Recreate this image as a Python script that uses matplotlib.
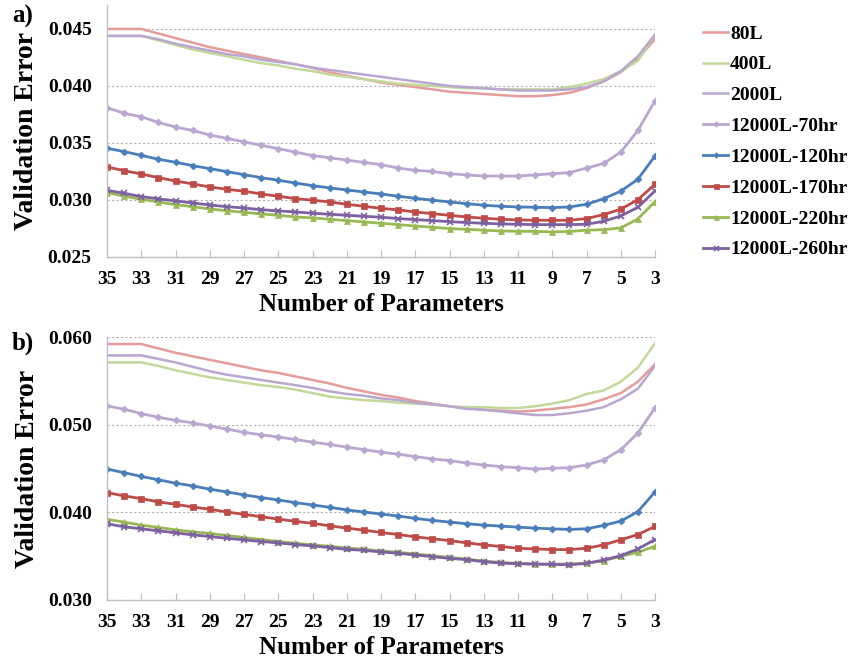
import numpy as np
import matplotlib
matplotlib.use("Agg")
import matplotlib.pyplot as plt

# number of parameters, from 35 down to 3
n_params = list(range(35, 2, -1))

series_names = ["80L", "400L", "2000L", "12000L-70hr", "12000L-120hr",
                "12000L-170hr", "12000L-220hr", "12000L-260hr"]

# panel a) validation error
a_80L = [0.0450, 0.0450, 0.0450, 0.0446, 0.0442, 0.0438, 0.0434, 0.0431, 0.0428, 0.0425,
         0.0422, 0.0419, 0.0416, 0.0412, 0.0409, 0.0406, 0.0403, 0.0401, 0.0399, 0.0397,
         0.0395, 0.0394, 0.0393, 0.0392, 0.0391, 0.0391, 0.0392, 0.0394, 0.0398, 0.0404,
         0.0412, 0.0424, 0.0441]
a_400L = [0.04439, 0.04439, 0.04439, 0.0440, 0.0436, 0.0432, 0.0429, 0.0426, 0.0423, 0.0420,
          0.0418, 0.0415, 0.0413, 0.0410, 0.0408, 0.0406, 0.0404, 0.0402, 0.0401, 0.0400,
          0.0399, 0.0398, 0.0398, 0.0397, 0.0397, 0.0397, 0.0397, 0.0399, 0.0402, 0.0406,
          0.0413, 0.0422, 0.0445]
a_2000L = [0.04439, 0.04439, 0.04439, 0.0441, 0.0437, 0.0434, 0.0431, 0.0428, 0.0426, 0.0423,
           0.0421, 0.0419, 0.0416, 0.0414, 0.0412, 0.0410, 0.0408, 0.0406, 0.0404, 0.0402,
           0.0400, 0.0399, 0.0398, 0.0397, 0.0396, 0.0396, 0.0396, 0.0397, 0.0399, 0.0404,
           0.0413, 0.0426, 0.0445]
a_70hr = [0.0381, 0.0376, 0.0373, 0.0368, 0.0364, 0.0361, 0.0357, 0.0354, 0.0351, 0.0348,
          0.0345, 0.0342, 0.0339, 0.0337, 0.0335, 0.0333, 0.0331, 0.0328, 0.0326, 0.0325,
          0.0323, 0.0322, 0.0321, 0.0321, 0.0321, 0.0322, 0.0323, 0.0324, 0.0328, 0.0332,
          0.0342, 0.0361, 0.0387]
a_120hr = [0.03454, 0.03424, 0.03392, 0.03357, 0.03331, 0.03301, 0.03275, 0.03249, 0.03222, 0.03196,
           0.03173, 0.03149, 0.03126, 0.03106, 0.03088, 0.03070, 0.03053, 0.03033, 0.03015, 0.02998,
           0.02983, 0.02968, 0.02954, 0.02945, 0.02939, 0.02936, 0.02933, 0.02939, 0.02962, 0.03011,
           0.03077, 0.03182, 0.03386]
a_170hr = [0.03290, 0.03257, 0.03228, 0.03196, 0.03167, 0.03141, 0.03114, 0.03094, 0.03077, 0.03053,
           0.03033, 0.03012, 0.02998, 0.02983, 0.02962, 0.02945, 0.02927, 0.02913, 0.02895, 0.02880,
           0.02866, 0.02851, 0.02840, 0.02831, 0.02825, 0.02822, 0.02822, 0.02822, 0.02837, 0.02872,
           0.02919, 0.03003, 0.03138]
a_220hr = [0.03064, 0.03035, 0.03006, 0.02983, 0.02959, 0.02941, 0.02921, 0.02906, 0.02892, 0.02878,
           0.02866, 0.02851, 0.02843, 0.02831, 0.02819, 0.02808, 0.02796, 0.02784, 0.02772, 0.02761,
           0.02749, 0.02743, 0.02735, 0.02728, 0.02726, 0.02724, 0.02720, 0.02724, 0.02735, 0.02740,
           0.02755, 0.02834, 0.02986]
a_260hr = [0.03085, 0.03059, 0.03030, 0.03010, 0.02992, 0.02974, 0.02956, 0.02941, 0.02930, 0.02915,
           0.02904, 0.02895, 0.02884, 0.02875, 0.02866, 0.02857, 0.02849, 0.02837, 0.02828, 0.02819,
           0.02810, 0.02802, 0.02796, 0.02790, 0.02787, 0.02784, 0.02784, 0.02784, 0.02787, 0.02813,
           0.02860, 0.02936, 0.03080]

# panel b) validation error
b_80L = [0.0592, 0.0592, 0.0592, 0.0587, 0.0582, 0.0578, 0.0574, 0.0570, 0.0566, 0.0562,
         0.0559, 0.0555, 0.0551, 0.0547, 0.0542, 0.0538, 0.0534, 0.0531, 0.0527, 0.0524,
         0.0521, 0.0519, 0.0517, 0.0516, 0.0515, 0.0516, 0.0518, 0.0520, 0.0523, 0.0529,
         0.0536, 0.0549, 0.0569]
b_400L = [0.0571, 0.0571, 0.0571, 0.0567, 0.0562, 0.0558, 0.0554, 0.0551, 0.0548, 0.0545,
          0.0543, 0.0540, 0.0536, 0.0532, 0.0530, 0.0528, 0.0527, 0.0525, 0.0524, 0.0523,
          0.0521, 0.0520, 0.0520, 0.0519, 0.0519, 0.0521, 0.0524, 0.0528, 0.0535, 0.0539,
          0.0549, 0.0565, 0.0593]
b_2000L = [0.0579, 0.0579, 0.0579, 0.0575, 0.0571, 0.0566, 0.0561, 0.0557, 0.0554, 0.0551,
           0.0548, 0.0545, 0.0542, 0.0538, 0.0535, 0.0533, 0.0530, 0.0528, 0.0525, 0.0523,
           0.0521, 0.0518, 0.0517, 0.0515, 0.0513, 0.0511, 0.0511, 0.0513, 0.0516, 0.0520,
           0.0529, 0.0541, 0.0567]
b_70hr = [0.05215, 0.05176, 0.05126, 0.05084, 0.05050, 0.05020, 0.04985, 0.04950, 0.04912, 0.04885,
          0.04859, 0.04831, 0.04801, 0.04774, 0.04744, 0.04716, 0.04686, 0.04663, 0.04636, 0.04610,
          0.04590, 0.04563, 0.04540, 0.04521, 0.04509, 0.04494, 0.04502, 0.04509, 0.04540, 0.04598,
          0.04713, 0.04905, 0.05192]
b_120hr = [0.04494, 0.04452, 0.04410, 0.04371, 0.04333, 0.04302, 0.04264, 0.04233, 0.04199, 0.04169,
           0.04141, 0.04111, 0.04084, 0.04058, 0.04027, 0.04004, 0.03981, 0.03958, 0.03931, 0.03908,
           0.03889, 0.03870, 0.03854, 0.03843, 0.03831, 0.03820, 0.03812, 0.03805, 0.03812, 0.03851,
           0.03900, 0.04008, 0.04233]
b_170hr = [0.04226, 0.04187, 0.04157, 0.04119, 0.04092, 0.04061, 0.04035, 0.04004, 0.03977, 0.03950,
           0.03923, 0.03897, 0.03874, 0.03847, 0.03820, 0.03797, 0.03770, 0.03747, 0.03721, 0.03698,
           0.03678, 0.03652, 0.03629, 0.03610, 0.03590, 0.03583, 0.03575, 0.03575, 0.03590, 0.03629,
           0.03686, 0.03747, 0.03839]
b_220hr = [0.03920, 0.03889, 0.03854, 0.03828, 0.03800, 0.03778, 0.03759, 0.03736, 0.03713, 0.03690,
           0.03667, 0.03647, 0.03629, 0.03613, 0.03594, 0.03578, 0.03560, 0.03544, 0.03525, 0.03506,
           0.03486, 0.03467, 0.03444, 0.03429, 0.03417, 0.03410, 0.03410, 0.03410, 0.03421, 0.03448,
           0.03498, 0.03544, 0.03613]
b_260hr = [0.03870, 0.03835, 0.03812, 0.03789, 0.03766, 0.03743, 0.03724, 0.03704, 0.03686, 0.03667,
           0.03652, 0.03632, 0.03617, 0.03598, 0.03578, 0.03567, 0.03548, 0.03533, 0.03514, 0.03494,
           0.03475, 0.03460, 0.03437, 0.03421, 0.03414, 0.03410, 0.03406, 0.03402, 0.03417, 0.03456,
           0.03506, 0.03582, 0.03690]

panel_a = [a_80L, a_400L, a_2000L, a_70hr, a_120hr, a_170hr, a_220hr, a_260hr]
panel_b = [b_80L, b_400L, b_2000L, b_70hr, b_120hr, b_170hr, b_220hr, b_260hr]

colors = ["#E59C9A", "#C3D89B", "#B9A7D0", "#B9A7D0", "#4A7EBB",
          "#BE4B48", "#98B954", "#7D60A0"]
markers = [None, None, None, "D", "D", "s", "^", "x"]
msizes = [0, 0, 0, 3.5, 3.5, 4.5, 4.5, 4.5]
lwidths = [1.8, 1.8, 1.8, 2.0, 2.0, 2.0, 2.0, 2.0]

plt.rcParams['font.family'] = ['Liberation Serif', 'DejaVu Serif']
plt.rcParams['font.weight'] = 'bold'

fig = plt.figure(figsize=(8.52, 6.64), dpi=100)
W, H = 852.0, 664.0

ax_a = fig.add_axes([107 / W, 1 - 257 / H, 548 / W, 252 / H])
ax_b = fig.add_axes([107 / W, 1 - 600 / H, 548 / W, 263 / H])


def style_axis(ax, ylim, yticks, fmt):
    ax.set_xlim(35, 3)
    ax.set_ylim(*ylim)
    ax.set_xticks(list(range(35, 2, -2)))
    ax.set_yticks(yticks)
    ax.set_yticklabels([fmt.format(v) for v in yticks])
    ax.yaxis.grid(True, linestyle=(0, (2, 2)), color="#b0b0b0", linewidth=0.8)
    ax.set_axisbelow(True)
    for s in ["top", "right"]:
        ax.spines[s].set_visible(False)
    for s in ["left", "bottom"]:
        ax.spines[s].set_color("#c0c0c0")
        ax.spines[s].set_linewidth(1.0)
    ax.tick_params(axis="x", direction="in", length=5, color="#c0c0c0",
                   labelsize=14, pad=10)
    ax.tick_params(axis="y", length=0, labelsize=14, pad=11)
    for lab in ax.get_xticklabels() + ax.get_yticklabels():
        lab.set_fontweight("bold")
    ax.set_xlabel("Number of Parameters", fontsize=18, fontweight="bold", labelpad=4)
    ax.set_ylabel("Validation Error", fontsize=20, fontweight="bold", labelpad=6)


for ax, data in [(ax_a, panel_a), (ax_b, panel_b)]:
    for name, vals, c, m, ms, lw in zip(series_names, data, colors, markers, msizes, lwidths):
        ax.plot(n_params, vals, color=c, marker=m, markersize=ms, linewidth=lw,
                markeredgewidth=1.2 if m == "x" else 0.5, label=name)

style_axis(ax_a, (0.025, 0.0471), [0.025, 0.030, 0.035, 0.040, 0.045], "{:.3f}")
style_axis(ax_b, (0.030, 0.060), [0.030, 0.040, 0.050, 0.060], "{:.3f}")

fig.text(12 / W, 1 - 16 / H, "a)", fontsize=18, fontweight="bold", va="center", ha="left")
fig.text(12 / W, 1 - 343 / H, "b)", fontsize=18, fontweight="bold", va="center", ha="left")

handles, labels = ax_a.get_legend_handles_labels()
fig.legend(handles, labels, loc="upper left", bbox_to_anchor=(703 / W, 1 - 25 / H),
           frameon=False, handlelength=1.3, handletextpad=0.1, borderpad=0,
           borderaxespad=0, labelspacing=0.68, markerscale=0.8,
           prop={"weight": "bold", "size": 14})

fig.savefig("out.png", dpi=100)
